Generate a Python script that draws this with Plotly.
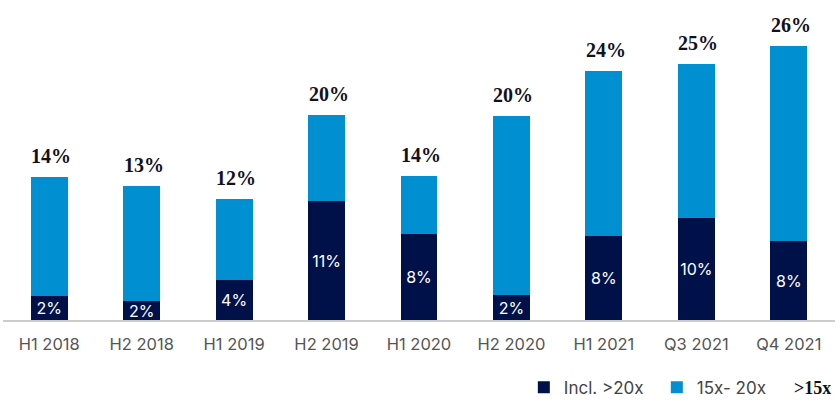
import plotly.graph_objects as go

categories = ["H1 2018", "H2 2018", "H1 2019", "H2 2019", "H1 2020",
              "H2 2020", "H1 2021", "Q3 2021", "Q4 2021"]
# segment heights (percent)
incl_20x = [2.3, 1.8, 3.9, 11.5, 8.3, 2.4, 8.1, 9.9, 7.6]
total_15x = [13.8, 13.0, 11.7, 19.8, 13.9, 19.7, 24.1, 24.8, 26.5]
# printed labels
incl_labels = ["2%", "2%", "4%", "11%", "8%", "2%", "8%", "10%", "8%"]
total_labels = ["14%", "13%", "12%", "20%", "14%", "20%", "24%", "25%", "26%"]

mid_15_20 = [t - d for t, d in zip(total_15x, incl_20x)]

NAVY = "#00114a"
BLUE = "#008fd0"
SANS = "Inter"
SERIF = "Liberation Serif"

fig = go.Figure()
fig.add_trace(go.Bar(
    x=categories, y=incl_20x, name="Incl. >20x", marker_color=NAVY,
    marker_line_width=0,
    text=incl_labels, textposition="inside", insidetextanchor="middle",
    textangle=0,
    textfont=dict(color="white", size=16, family=SANS),
    hoverinfo="skip",
))
fig.add_trace(go.Bar(
    x=categories, y=mid_15_20, name="15x- 20x", marker_color=BLUE,
    marker_line_width=0, hoverinfo="skip",
))

annotations = []
for c, t, lab in zip(categories, total_15x, total_labels):
    annotations.append(dict(
        x=c, y=t, text="<b>%s</b>" % lab, showarrow=False, yanchor="bottom",
        yshift=8, xshift=2,
        font=dict(family=SERIF, size=20, color="#111122"),
    ))
annotations.append(dict(
    xref="paper", yref="paper", x=0.998, y=-0.218, xanchor="right", yanchor="middle",
    text="<b>&gt;15x</b>", showarrow=False,
    font=dict(family=SERIF, size=18, color="#111111"),
))

fig.update_layout(
    barmode="stack", bargap=0.6,
    width=840, height=409,
    margin=dict(l=3, r=5, t=10, b=87),
    paper_bgcolor="white", plot_bgcolor="white",
    showlegend=True,
    legend=dict(orientation="h", x=0.626, y=-0.218, xanchor="left", yanchor="middle",
                font=dict(family=SANS, size=17, color="#444444"),
                entrywidth=88, entrywidthmode="pixels",
                traceorder="normal", itemclick=False),
    uniformtext=dict(minsize=16, mode="show"),
    annotations=annotations,
)
fig.update_xaxes(showline=True, linecolor="#cccccc", linewidth=1.5,
                 tickfont=dict(family=SANS, size=16.5, color="#555555"),
                 ticks="outside", ticklen=8, tickcolor="rgba(0,0,0,0)",
                 showgrid=False)
fig.update_yaxes(range=[0, 30], visible=False, showgrid=False)

fig.write_html("out.html", config={"displayModeBar": False},
               post_script="document.body.style.margin='0px';")
